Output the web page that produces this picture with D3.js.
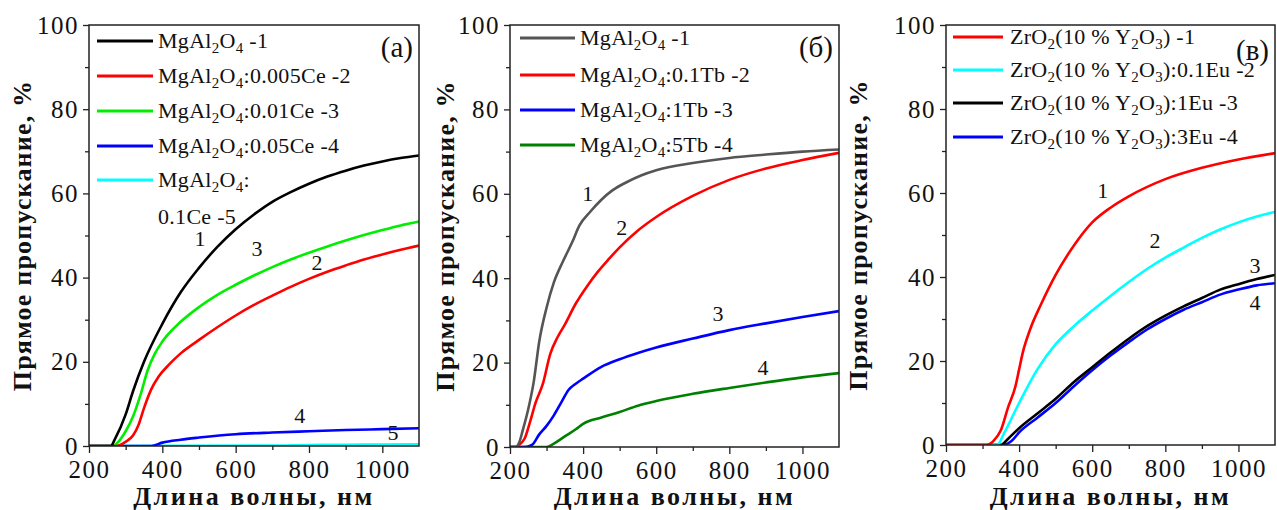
<!DOCTYPE html>
<html>
<head>
<meta charset="utf-8">
<script src="https://cdn.jsdelivr.net/npm/d3@7"></script>
<style>
  body { margin: 0; background: #fff; }
  svg { display: block; font-family: "Liberation Serif", "Times New Roman", Tinos, serif; }
</style>
</head>
<body>
<svg id="chart" width="1277" height="510"></svg>
<script>
// ---- data: [wavelength nm, transmittance %] ----
// panel (a)
const a1 = [[200,0],[260,0],[270,1.5],[300,7.5],[320,13],[350,20],[400,29],[450,36.5],[500,42.3],[550,47.3],[600,51.5],[650,55],[700,58],[750,60.3],[800,62.3],[850,64],[900,65.4],[950,66.6],[1000,67.6],[1050,68.4],[1100,69]];
const a2 = [[200,0],[275,0],[300,1],[320,2.5],[335,5],[350,9],[370,13.5],[390,16.5],[420,19.5],[450,22],[500,25.2],[550,28.2],[600,31],[650,33.5],[700,35.7],[750,37.8],[800,39.7],[850,41.4],[900,42.9],[950,44.3],[1000,45.5],[1050,46.6],[1100,47.6]];
const a3 = [[200,0],[265,0],[280,1],[300,3.5],[320,7],[340,12],[360,18],[380,22],[400,24.8],[450,29.5],[500,33],[550,35.9],[600,38.3],[650,40.5],[700,42.5],[750,44.3],[800,45.9],[850,47.4],[900,48.8],[950,50.1],[1000,51.3],[1050,52.4],[1100,53.3]];
const a4 = [[200,0],[370,0],[400,0.8],[450,1.5],[500,2],[600,2.8],[700,3.2],[800,3.5],[900,3.8],[1000,4],[1100,4.2]];
const a5 = [[200,0],[700,0.1],[800,0.25],[900,0.3],[1000,0.35],[1100,0.4]];
const aNames = ["MgAl_2O_4 -1", "MgAl_2O_4:0.005Ce -2", "MgAl_2O_4:0.01Ce -3", "MgAl_2O_4:0.05Ce -4", "MgAl_2O_4:|0.1Ce -5"];
const aColors = ["#000000", "#ff0000", "#00ee00", "#0000ff", "#00ffff"];
const aMarks = [["1",503,49.4],["3",658,47],["2",822,43.7],["4",775,7.4],["5",1029,3.3]];

// panel (б)
const b1 = [[200,0],[215,0],[225,1],[235,4],[250,9],[265,15.5],[280,25],[300,33],[320,39],[345,44],[370,48.5],[390,52.5],[420,55.8],[450,58.6],[480,60.8],[520,62.8],[560,64.4],[600,65.6],[700,67.3],[800,68.5],[900,69.3],[1000,70],[1100,70.5]];
const b2 = [[200,0],[215,0],[225,0.5],[240,2],[255,6],[270,10.5],[290,15],[310,22],[330,26],[350,29],[380,34],[410,38],[440,41.5],[470,44.5],[500,47.3],[550,51.3],[600,54.5],[700,59.5],[800,63.3],[900,66],[1000,68],[1100,69.7]];
const b3 = [[200,0],[240,0],[260,0.5],[280,3],[300,5],[320,7.5],[340,10.5],[360,13.5],[380,15],[400,16.2],[450,19],[500,20.8],[550,22.3],[600,23.6],[700,25.7],[800,27.7],[900,29.3],[1000,30.8],[1100,32.2]];
const b4 = [[200,0],[300,0],[320,0.8],[350,2.5],[380,4.2],[400,5.5],[450,7],[500,8.3],[550,9.8],[600,10.9],[700,12.6],[800,14],[900,15.3],[1000,16.5],[1100,17.5]];
const bNames = ["MgAl_2O_4 -1", "MgAl_2O_4:0.1Tb -2", "MgAl_2O_4:1Tb -3", "MgAl_2O_4:5Tb -4"];
const bColors = ["#555555", "#ff0000", "#0000ff", "#008000"];
const bMarks = [["1",413,60.2],["2",506,52.1],["3",769,31.8],["4",892,19]];

// panel (в)
const c1 = [[200,0],[310,0],[330,1],[350,3.5],[370,9],[390,14],[400,18],[410,22],[430,27.5],[460,33.5],[500,40.5],[550,47.5],[600,53],[650,56.5],[700,59.2],[800,63.3],[900,66],[1000,68],[1100,69.5]];
const c2 = [[200,0],[340,0],[360,3],[400,10],[450,18],[500,24],[550,28.3],[600,32],[650,35.5],[700,38.8],[750,41.9],[800,44.6],[850,47],[900,49.3],[950,51.3],[1000,53],[1050,54.4],[1100,55.5]];
const c3 = [[200,0],[350,0],[370,1.5],[400,4],[450,7.5],[500,11],[550,15],[600,18.5],[650,22],[700,25.3],[750,28.3],[800,30.8],[850,33],[900,35],[950,37],[1000,38.3],[1050,39.5],[1100,40.5]];
const c4 = [[200,0],[355,0],[380,1],[400,3],[450,6.5],[500,10],[550,14],[600,17.8],[650,21.3],[700,24.5],[750,27.5],[800,30],[850,32.2],[900,34],[950,35.8],[1000,37],[1050,38],[1100,38.5]];
const cNames = ["ZrO_2(10 % Y_2O_3) -1", "ZrO_2(10 % Y_2O_3):0.1Eu -2", "ZrO_2(10 % Y_2O_3):1Eu -3", "ZrO_2(10 % Y_2O_3):3Eu -4"];
const cColors = ["#ff0000", "#00ffff", "#000000", "#0000ff"];
const cMarks = [["1",629,60.7],["2",772,48.8],["3",1045,42.9],["4",1045,34]];

const xTicks = [200, 400, 600, 800, 1000];
const yTicks = [0, 20, 40, 60, 80, 100];
const yTitle = "Прямое пропускание, %";
const xTitle = "Длина волны, нм";

// ---- layout ----
var panels = [
  {series: [a1,a2,a3,a4,a5], names: aNames, colors: aColors, marks: aMarks, tag: "(a)",
   left: 89, top: 25, right: 419, bottom: 446, ytx: 22,
   leg: {x0: 97, x1: 153, tx: 158, rows: [41, 76, 111, 146, 180], wrap: 37}},
  {series: [b1,b2,b3,b4], names: bNames, colors: bColors, marks: bMarks, tag: "(б)",
   left: 510, top: 25, right: 839, bottom: 447, ytx: 445,
   leg: {x0: 520, x1: 575, tx: 580, rows: [38, 75, 110, 145]}},
  {series: [c1,c2,c3,c4], names: cNames, colors: cColors, marks: cMarks, tag: "(в)",
   left: 946, top: 25, right: 1275, bottom: 445, ytx: 858,
   leg: {x0: 953, x1: 1003, tx: 1010, rows: [37, 70, 103, 137]}}
];

var svg = d3.select("#chart");

function richText(sel, str, size) {
  // "_2" -> subscript 2
  var parts = str.split(/_(\d)/);
  var shift = 0;
  parts.forEach(function(p, i) {
    if (!p) return;
    var t = sel.append("tspan").text(p);
    if (i % 2) {
      t.attr("font-size", size * 0.68).attr("dy", 5 - shift);
      shift = 5;
    } else {
      t.attr("dy", -shift);
      shift = 0;
    }
  });
}

panels.forEach(function(p, pi) {
  var x = d3.scaleLinear().domain([200, 1100]).range([p.left, p.right]);
  var y = d3.scaleLinear().domain([0, 100]).range([p.bottom, p.top]);
  var g = svg.append("g");

  g.append("clipPath").attr("id", "clip" + pi)
    .append("rect")
    .attr("x", p.left).attr("y", p.top)
    .attr("width", p.right - p.left).attr("height", p.bottom - p.top);

  // minor ticks
  var xMinor = d3.range(300, 1100, 200);
  var yMinor = d3.range(10, 100, 20);
  g.append("g").attr("transform", "translate(0," + p.bottom + ")")
    .call(d3.axisBottom(x).tickValues(xMinor).tickSize(4).tickFormat(""))
    .call(s => s.select(".domain").remove());
  g.append("g").attr("transform", "translate(" + p.left + ",0)")
    .call(d3.axisLeft(y).tickValues(yMinor).tickSize(4).tickFormat(""))
    .call(s => s.select(".domain").remove());

  // major ticks with labels
  var xa = g.append("g").attr("transform", "translate(0," + p.bottom + ")")
    .call(d3.axisBottom(x).tickValues(xTicks).tickSize(7).tickPadding(7).tickFormat(d3.format("d")));
  xa.attr("font-family", null).select(".domain").remove();
  xa.selectAll("text").attr("font-size", 25).attr("letter-spacing", 1.5).attr("fill", "#111");

  var ya = g.append("g").attr("transform", "translate(" + p.left + ",0)")
    .call(d3.axisLeft(y).tickValues(yTicks).tickSize(6).tickPadding(4).tickFormat(d3.format("d")));
  ya.attr("font-family", null).select(".domain").remove();
  ya.selectAll("text").attr("font-size", 25).attr("letter-spacing", 1.5).attr("fill", "#111");

  g.selectAll(".tick line").attr("stroke", "#222").attr("stroke-width", 1.3);

  // curves
  var line = d3.line()
    .x(d => x(d[0]))
    .y(d => y(d[1]))
    .curve(d3.curveMonotoneX);

  var order = p.series.map((s, i) => i).reverse();
  g.append("g").attr("clip-path", "url(#clip" + pi + ")")
    .selectAll("path")
    .data(order)
    .join("path")
    .attr("d", i => line(p.series[i]))
    .attr("fill", "none")
    .attr("stroke", i => p.colors[i])
    .attr("stroke-width", 2.6)
    .attr("stroke-linejoin", "round");

  // frame
  g.append("rect")
    .attr("x", p.left).attr("y", p.top)
    .attr("width", p.right - p.left).attr("height", p.bottom - p.top)
    .attr("fill", "none").attr("stroke", "#222").attr("stroke-width", 1.5);

  // curve numbers
  g.selectAll(".mark")
    .data(p.marks)
    .join("text")
    .attr("x", d => x(d[1]))
    .attr("y", d => y(d[2]))
    .attr("dy", "0.35em")
    .attr("text-anchor", "middle")
    .attr("font-size", 22)
    .attr("fill", "#111")
    .text(d => d[0]);

  // legend
  var lg = g.append("g");
  p.names.forEach(function(name, i) {
    var ry = p.leg.rows[i];
    lg.append("line")
      .attr("x1", p.leg.x0).attr("x2", p.leg.x1)
      .attr("y1", ry).attr("y2", ry)
      .attr("stroke", p.colors[i]).attr("stroke-width", 3);
    name.split("|").forEach(function(part, k) {
      var t = lg.append("text")
        .attr("x", p.leg.tx)
        .attr("y", ry + 7 + k * (p.leg.wrap || 0))
        .attr("font-size", 22)
        .attr("letter-spacing", 0.3)
        .attr("fill", "#111");
      richText(t, part, 22);
    });
  });

  // panel tag
  g.append("text")
    .attr("x", p.right - 6).attr("y", pi == 2 ? 60 : 57)
    .attr("text-anchor", "end")
    .attr("font-size", 29)
    .attr("fill", "#111")
    .text(p.tag);

  // axis titles
  g.append("text")
    .attr("transform", "translate(" + p.ytx + "," + ((p.top + p.bottom) / 2) + ") rotate(-90)")
    .attr("dy", "0.35em")
    .attr("text-anchor", "middle")
    .attr("font-size", 26)
    .attr("font-weight", "bold")
    .attr("letter-spacing", 1.2)
    .attr("fill", "#111")
    .text(yTitle);

  g.append("text")
    .attr("x", (p.left + p.right) / 2).attr("y", 505)
    .attr("text-anchor", "middle")
    .attr("font-size", 26)
    .attr("font-weight", "bold")
    .attr("letter-spacing", 2.5)
    .attr("fill", "#111")
    .text(xTitle);
});
</script>
</body>
</html>
